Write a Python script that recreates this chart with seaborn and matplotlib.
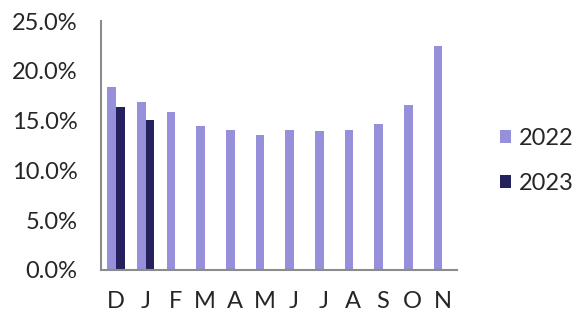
import matplotlib
matplotlib.use("Agg")
import matplotlib.pyplot as plt
import pandas as pd
import seaborn as sns
from matplotlib.ticker import FuncFormatter, FixedLocator

months = ["D", "J", "F", "M", "A", "M ", "J ", "J  ", "A ", "S", "O", "N"]
labels = ["D", "J", "F", "M", "A", "M", "J", "J", "A", "S", "O", "N"]
values_2022 = [18.4, 16.9, 15.9, 14.5, 14.1, 13.6, 14.1, 14.0, 14.1, 14.7, 16.6, 22.5]
values_2023 = [16.4, 15.1, None, None, None, None, None, None, None, None, None, None]

df = pd.DataFrame({
    "month": months * 2,
    "year": ["2022"] * 12 + ["2023"] * 12,
    "value": values_2022 + values_2023,
})

sns.set_style("white")
plt.rcParams["font.family"] = ["Lato", "DejaVu Sans"]

fig = plt.figure(figsize=(5.81, 3.15), dpi=100)
ax = fig.add_axes([0.174, 0.143, 0.613, 0.79])

sns.barplot(data=df, x="month", y="value", hue="year", order=months,
            palette={"2022": "#9590d9", "2023": "#25215e"},
            width=0.58, saturation=1, linewidth=0, ax=ax)

ax.set_ylim(0, 25)
ax.set_xlim(-0.5, 11.5)
ax.set_yticks([0, 5, 10, 15, 20, 25])
ax.yaxis.set_major_formatter(FuncFormatter(lambda v, p: f"{v:.1f}%"))
ax.set_xticks(range(12))
ax.set_xticklabels(labels)
ax.xaxis.set_minor_locator(FixedLocator([i - 0.5 for i in range(13)]))
ax.tick_params(axis="x", which="major", length=0, pad=15, labelsize=17)
ax.tick_params(axis="x", which="minor", length=5, width=1.5, color="#8c8c8c")
ax.tick_params(axis="y", length=5, width=1.5, color="#8c8c8c", labelsize=17, pad=12)
ax.set_xlabel("")
ax.set_ylabel("")

for s in ["top", "right"]:
    ax.spines[s].set_visible(False)
for s in ["left", "bottom"]:
    ax.spines[s].set_color("#8c8c8c")
    ax.spines[s].set_linewidth(1.5)

ax.legend(loc="center left", bbox_to_anchor=(0.840, 0.489),
          bbox_transform=fig.transFigure, frameon=False, borderpad=0,
          fontsize=17, handlelength=0.47, handleheight=0.47, handletextpad=0.34,
          labelspacing=1.0)

fig.savefig("out.png", dpi=100)
